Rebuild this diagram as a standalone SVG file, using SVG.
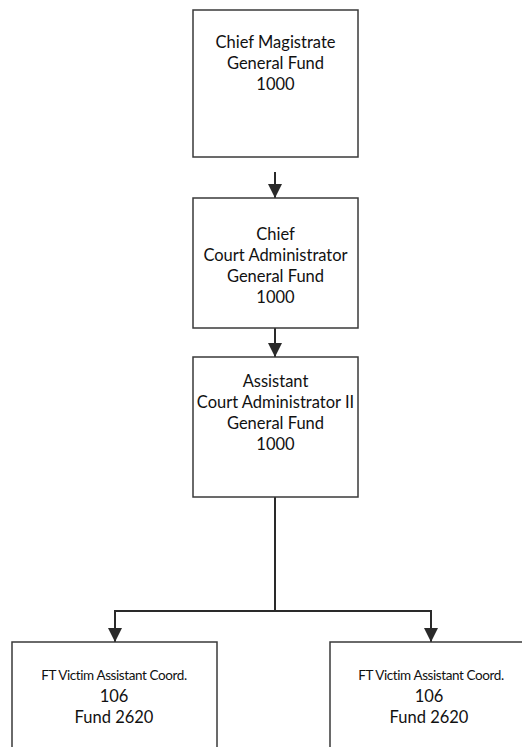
<svg xmlns="http://www.w3.org/2000/svg" width="522" height="747" viewBox="0 0 522 747">
  <style>
    .box { fill: #ffffff; stroke: #3a3a3a; stroke-width: 1.5; }
    .lbl { font-family: Lato, "Open Sans", "Liberation Sans", sans-serif; font-size: 16.5px; fill: #111111; text-anchor: middle; }
    .small { font-size: 13.5px; letter-spacing: -0.4px; }
    .wire { fill: none; stroke: #2a2a2a; stroke-width: 2; }
  </style>
  <defs>
    <marker id="arrow" viewBox="0 0 12 12" refX="12" refY="6" markerWidth="7" markerHeight="7" markerUnits="strokeWidth" orient="auto">
      <path d="M0,0 L12,6 L0,12 Z" fill="#2a2a2a"/>
    </marker>
  </defs>
  <rect width="522" height="747" fill="#ffffff"/>

  <g id="connectors">
    <line class="wire" x1="275" y1="172" x2="275" y2="198" marker-end="url(#arrow)"/>
    <line class="wire" x1="275" y1="328" x2="275" y2="357" marker-end="url(#arrow)"/>
    <polyline class="wire" points="275,497 275,611"/>
    <polyline class="wire" points="275,611 115,611 115,642" marker-end="url(#arrow)"/>
    <polyline class="wire" points="275,611 431,611 431,642" marker-end="url(#arrow)"/>
  </g>

  <g id="chief-magistrate">
    <rect class="box" x="193" y="10" width="165" height="147"/>
    <text class="lbl" x="275.5" y="48">Chief Magistrate</text>
    <text class="lbl" x="275.5" y="69">General Fund</text>
    <text class="lbl" x="275.5" y="90">1000</text>
  </g>

  <g id="chief-court-administrator">
    <rect class="box" x="193" y="198" width="165" height="130"/>
    <text class="lbl" x="275.5" y="240">Chief</text>
    <text class="lbl" x="275.5" y="261">Court Administrator</text>
    <text class="lbl" x="275.5" y="282">General Fund</text>
    <text class="lbl" x="275.5" y="303">1000</text>
  </g>

  <g id="assistant-court-administrator">
    <rect class="box" x="193" y="357" width="165" height="140"/>
    <text class="lbl" x="275.5" y="387">Assistant</text>
    <text class="lbl" x="275.5" y="408">Court Administrator II</text>
    <text class="lbl" x="275.5" y="429">General Fund</text>
    <text class="lbl" x="275.5" y="450">1000</text>
  </g>

  <g id="victim-coord-left">
    <rect class="box" x="12" y="642" width="205" height="120"/>
    <text class="lbl small" x="114" y="680">FT Victim Assistant Coord.</text>
    <text class="lbl" x="114" y="702">106</text>
    <text class="lbl" x="114" y="723">Fund 2620</text>
  </g>

  <g id="victim-coord-right">
    <rect class="box" x="330" y="642" width="205" height="120"/>
    <text class="lbl small" x="431" y="680">FT Victim Assistant Coord.</text>
    <text class="lbl" x="429" y="702">106</text>
    <text class="lbl" x="429" y="723">Fund 2620</text>
  </g>
</svg>
